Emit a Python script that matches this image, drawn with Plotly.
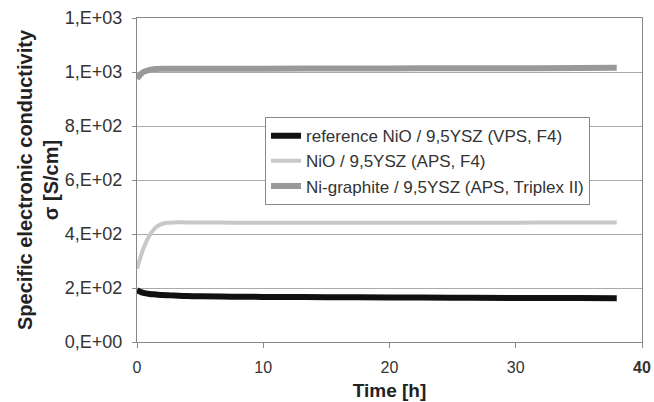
import plotly.graph_objects as go

time_h = [0, 0.25, 0.5, 1, 1.5, 2, 2.5, 3, 4, 5, 7.5, 10, 15, 20, 25, 30, 35, 38]
ref_vps = [192, 186, 182, 178, 176, 174, 173, 172, 170, 169, 168, 167, 166, 165, 164, 163, 163, 162]
nio_aps = [272, 310, 345, 395, 425, 438, 442, 443, 443, 443, 442, 442, 442, 442, 442, 442, 443, 443]
ni_graphite = [975, 990, 1000, 1008, 1011, 1012, 1012, 1012, 1012, 1012, 1012, 1012, 1013, 1013, 1014, 1014, 1015, 1016]

names = ["reference NiO / 9,5YSZ (VPS, F4)",
         "NiO / 9,5YSZ (APS, F4)",
         "Ni-graphite / 9,5YSZ (APS, Triplex II)"]
y_tickvals = [0, 200, 400, 600, 800, 1000, 1200]
y_ticktext = ["0,E+00", "2,E+02", "4,E+02", "6,E+02", "8,E+02", "1,E+03", "1,E+03"]
x_tickvals = [0, 10, 20, 30, 40]
x_ticktext = ["0", "10", "20", "30", "<b>40</b>"]

fig = go.Figure()
fig.add_trace(go.Scatter(x=time_h, y=ref_vps, name=names[0], mode="lines",
                         line=dict(color="#111111", width=6, shape="spline")))
fig.add_trace(go.Scatter(x=time_h, y=nio_aps, name=names[1], mode="lines",
                         line=dict(color="#c8c8c8", width=4, shape="spline")))
fig.add_trace(go.Scatter(x=time_h, y=ni_graphite, name=names[2], mode="lines",
                         line=dict(color="#999999", width=6, shape="spline")))

fig.update_layout(
    width=654, height=402,
    margin=dict(l=137, r=12, t=18, b=60),
    paper_bgcolor="white", plot_bgcolor="white",
    font=dict(family="Liberation Sans, Arial, sans-serif", size=17, color="#333333"),
    showlegend=True,
    legend=dict(x=0.2535, y=0.694, xanchor="left", yanchor="top",
                bgcolor="white", bordercolor="#888888", borderwidth=1,
                font=dict(size=17, color="#333333"),
                tracegroupgap=0, itemwidth=30),
    xaxis=dict(range=[0, 40], tickvals=x_tickvals, ticktext=x_ticktext,
               tickfont=dict(size=16), automargin=False, ticklabelstandoff=6,
               showgrid=False, zeroline=False, showline=True, linecolor="#888888",
               linewidth=1, mirror=True, ticks="outside", ticklen=5, tickcolor="#888888",
               title=dict(text="<b>Time [h]</b>", font=dict(size=19, color="#222222"), standoff=8)),
    yaxis=dict(range=[0, 1200], tickvals=y_tickvals, ticktext=y_ticktext,
               tickfont=dict(size=18), automargin=False, ticklabelstandoff=6,
               showgrid=True, gridcolor="#aaaaaa", gridwidth=1, zeroline=False,
               showline=True, linecolor="#888888", linewidth=1, mirror=True,
               ticks="outside", ticklen=4, tickcolor="#888888",
               title=dict(text="<b>Specific electronic conductivity<br>σ [S/cm]</b>",
                          font=dict(size=20, color="#222222"), standoff=0)),
)

fig.write_html("out.html", config={"displayModeBar": False},
               post_script="document.body.style.margin='0';document.body.style.overflow='hidden';")
